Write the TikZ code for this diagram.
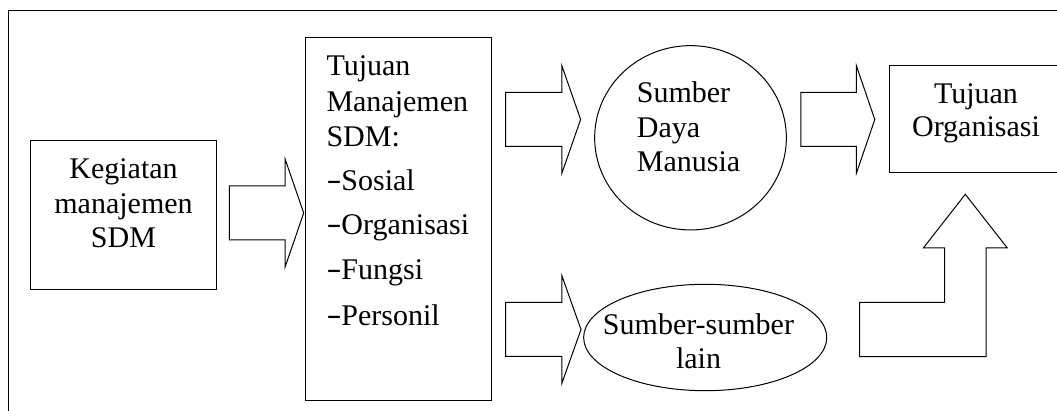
\documentclass[tikz,border=0pt]{standalone}
\usepackage{fontspec}
\usepackage{graphicx}
\setmainfont{Liberation Serif}
\usetikzlibrary{shapes.geometric}

% horizontal block arrow: shaft from #1 to #2, head ends at #3, axis at height #4
\newcommand{\hblockarrow}[4]{%
  \draw[blockarrow] (#1,#4-27) -- (#2,#4-27) -- (#2,#4-54) -- (#3,#4)
    -- (#2,#4+54) -- (#2,#4+27) -- (#1,#4+27) -- cycle;}
% wide list dash
\newcommand{\listdash}{\raisebox{1pt}{\scalebox{1.5}[1]{-}}}

\begin{document}
\begin{tikzpicture}[x=1pt, y=-1pt, line width=1pt,
  shapebox/.style={draw, rectangle, inner sep=0pt},
  oval/.style={draw, ellipse, inner sep=0pt},
  txt/.style={inner sep=0pt, font=\fontsize{30}{34}\selectfont},
  blockarrow/.style={draw, line join=miter}]
\clip (0,0) rectangle (1057,411);

% outer frame
\draw (8.3,11) rectangle (1080,430);

% boxes and ovals
\node[shapebox, minimum width=186.3pt, minimum height=149pt] (keg) at (123.45,215.2) {};
\node[shapebox, minimum width=185.9pt, minimum height=362pt] (tms) at (398.75,219) {};
\node[oval, minimum width=191.7pt, minimum height=184.3pt] (sdm) at (690.5,137.8) {};
\node[oval, minimum width=243.1pt, minimum height=106.4pt] (lain) at (705.2,337.5) {};
\node[shapebox, minimum width=190.8pt, minimum height=107pt] (org) at (984.6,119.2) {};

% texts
\node[txt, anchor=base] (k1) at (123.5,179) {Kegiatan};
\node[txt, anchor=base] (k2) at (123.5,213.3) {manajemen};
\node[txt, anchor=base] (k3) at (123.5,247.3) {SDM};

\node[txt, anchor=base west] (t1) at (326,76) {Tujuan};
\node[txt, anchor=base west] (t2) at (326,111.5) {Manajemen};
\node[txt, anchor=base west] (t3) at (326,146.5) {SDM:};
\node[txt, anchor=base west] (t4) at (326,191) {\listdash Sosial};
\node[txt, anchor=base west] (t5) at (326,235) {\listdash Organisasi};
\node[txt, anchor=base west] (t6) at (326,280) {\listdash Fungsi};
\node[txt, anchor=base west] (t7) at (326,325.5) {\listdash Personil};

\node[txt, anchor=base west] (s1) at (636.4,102.5) {Sumber};
\node[txt, anchor=base west] (s2) at (636.4,137.5) {Daya};
\node[txt, anchor=base west] (s3) at (636.4,172) {Manusia};

\node[txt, anchor=base] (l1) at (698.5,334.5) {Sumber-sumber};
\node[txt, anchor=base] (l2) at (698.5,368.3) {lain};

\node[txt, anchor=base] (o1) at (976,103.5) {Tujuan};
\node[txt, anchor=base] (o2) at (976,137) {Organisasi};

% block arrows
\hblockarrow{229.3}{285.1}{303.7}{213}
\hblockarrow{505.5}{561.8}{580.6}{119.5}
\hblockarrow{505.5}{561.8}{581}{329.5}
\hblockarrow{800.8}{856.3}{874.8}{119.5}

% bent arrow rising towards the organisation goals
\draw[blockarrow] (859.7,302.5) -- (944.5,302.5) -- (944.5,248) -- (923.3,248)
  -- (965.3,194.3) -- (1007.3,248) -- (986.2,248) -- (986.2,356.7)
  -- (859.7,356.7) -- cycle;
\end{tikzpicture}
\end{document}
